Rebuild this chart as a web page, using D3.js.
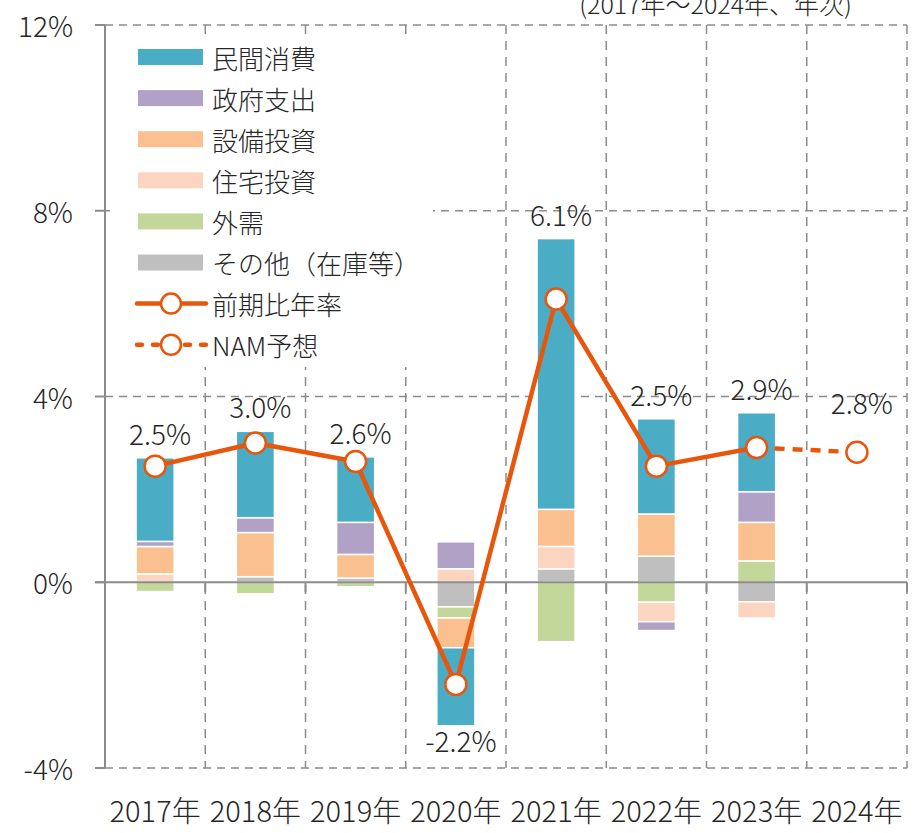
<!DOCTYPE html>
<html>
<head>
<meta charset="utf-8">
<script src="https://cdn.jsdelivr.net/npm/d3@7"></script>
<style>
  body { margin: 0; background: #fff; }
  svg text { font-family: "Noto Sans CJK JP", "Noto Sans", sans-serif; font-weight: 300; fill: #262626; }
</style>
</head>
<body>
<div id="chart"></div>
<script>
// 年
const years = ['2017年', '2018年', '2019年', '2020年', '2021年', '2022年', '2023年', '2024年']
// 寄与度（%ポイント）
const privateCons = [1.80, 1.86, 1.41, -1.68, 5.83, 2.05, 1.70, null]
const govSpend = [0.11, 0.32, 0.69, 0.58, 0.00, -0.19, 0.66, null]
const capex = [0.59, 0.95, 0.51, -0.64, 0.80, 0.91, 0.83, null]
const housing = [0.18, 0.00, 0.00, 0.29, 0.48, -0.42, -0.35, null]
const netExports = [-0.20, -0.25, -0.10, -0.24, -1.28, -0.43, 0.46, null]
const others = [0.00, 0.12, 0.09, -0.53, 0.29, 0.56, -0.42, null]
// 前期比年率
const growth = [2.5, 3.0, 2.6, -2.2, 6.1, 2.5, 2.9, null]
const forecast = [null, null, null, null, null, null, 2.9, 2.8]
const growthLabels = ['2.5%', '3.0%', '2.6%', '-2.2%', '6.1%', '2.5%', '2.9%', '2.8%']
const yTicks = [-4, 0, 4, 8, 12]
const seriesNames = ['民間消費', '政府支出', '設備投資', '住宅投資', '外需', 'その他（在庫等）']
const seriesColors = ['#4bacc6', '#b2a1c7', '#fac090', '#fcd5c1', '#c4d79b', '#bfbfbf']
const lineNames = ['前期比年率', 'NAM予想']
const lineColor = '#e8560c'

const width = 915
const height = 833
const svg = d3.select('#chart').append('svg')
  .attr('width', width)
  .attr('height', height)

const x = d3.scaleBand().domain(years).range([105, 907])
const y = d3.scaleLinear().domain([-4, 12]).range([768, 25])
const barW = x.bandwidth() * 0.38

// grid
svg.append('g').selectAll('line.h')
  .data(yTicks.filter(d => d !== 0))
  .enter().append('line')
  .attr('x1', 105).attr('x2', 907)
  .attr('y1', d => y(d)).attr('y2', d => y(d))
  .attr('stroke', '#8c8c8c').attr('stroke-width', 1.5)
  .attr('stroke-dasharray', '8,6')

const bounds = years.map(d => x(d) + x.bandwidth())
svg.append('g').selectAll('line.v')
  .data(bounds)
  .enter().append('line')
  .attr('x1', d => d).attr('x2', d => d)
  .attr('y1', y(12)).attr('y2', y(-4))
  .attr('stroke', '#8c8c8c').attr('stroke-width', 1.5)
  .attr('stroke-dasharray', '9,7')

// axis line + ticks
svg.append('line')
  .attr('x1', 105).attr('x2', 105).attr('y1', y(12)).attr('y2', y(-4))
  .attr('stroke', '#8c8c8c').attr('stroke-width', 2)
svg.append('g').selectAll('line')
  .data(yTicks)
  .enter().append('line')
  .attr('x1', 95).attr('x2', 105)
  .attr('y1', d => y(d)).attr('y2', d => y(d))
  .attr('stroke', '#8c8c8c').attr('stroke-width', 2)
svg.append('g').selectAll('text')
  .data(yTicks)
  .enter().append('text')
  .attr('x', 73).attr('y', d => y(d))
  .attr('text-anchor', 'end')
  .attr('dominant-baseline', 'central')
  .style('font-size', '28px')
  .text(d => d + '%')

// legend box
svg.append('rect')
  .attr('x', 110).attr('y', 35).attr('width', 323).attr('height', 332)
  .attr('fill', '#fff')

// stacked bars
const rows = years.map((yr, i) => ({
  year: yr,
  '民間消費': privateCons[i] || 0,
  '政府支出': govSpend[i] || 0,
  '設備投資': capex[i] || 0,
  '住宅投資': housing[i] || 0,
  '外需': netExports[i] || 0,
  'その他（在庫等）': others[i] || 0
}))
const stackOrder = ['その他（在庫等）', '外需', '住宅投資', '設備投資', '政府支出', '民間消費']
const color = d3.scaleOrdinal().domain(seriesNames).range(seriesColors)
const stacked = d3.stack().keys(stackOrder).offset(d3.stackOffsetDiverging)(rows)

svg.append('g').selectAll('g')
  .data(stacked)
  .enter().append('g')
  .attr('fill', d => color(d.key))
  .selectAll('rect')
  .data(d => d.filter(s => s[1] !== s[0]))
  .enter().append('rect')
  .attr('x', d => x(d.data.year) + (x.bandwidth() - barW) / 2)
  .attr('width', barW)
  .attr('y', d => y(Math.max(d[0], d[1])))
  .attr('height', d => Math.abs(y(d[0]) - y(d[1])))
  .attr('stroke', '#fff').attr('stroke-width', 1.5)

// zero line
svg.append('line')
  .attr('x1', 95).attr('x2', 907).attr('y1', y(0)).attr('y2', y(0))
  .attr('stroke', '#8c8c8c').attr('stroke-width', 2)
svg.append('g').selectAll('line')
  .data([x(years[0])].concat(bounds))
  .enter().append('line')
  .attr('x1', d => d).attr('x2', d => d)
  .attr('y1', y(0)).attr('y2', y(0) + 10)
  .attr('stroke', '#8c8c8c').attr('stroke-width', 2)

// lines
const cx = d => x(d) + x.bandwidth() / 2
const line = d3.line()
  .defined(d => d[1] !== null)
  .x(d => cx(d[0]))
  .y(d => y(d[1]))
svg.append('path')
  .datum(years.map((yr, i) => [yr, forecast[i]]))
  .attr('d', line)
  .attr('fill', 'none').attr('stroke', lineColor).attr('stroke-width', 4.5)
  .attr('stroke-dasharray', '10,8')
svg.append('path')
  .datum(years.map((yr, i) => [yr, growth[i]]))
  .attr('d', line)
  .attr('fill', 'none').attr('stroke', lineColor).attr('stroke-width', 4.5)
  .attr('stroke-linejoin', 'round')

const points = years.map((yr, i) => ({
  year: yr,
  value: growth[i] !== null ? growth[i] : forecast[i],
  label: growthLabels[i],
  top: d3.max(stacked, s => s[i][1]),
  bottom: d3.min(stacked, s => s[i][0])
}))
svg.append('g').selectAll('circle')
  .data(points)
  .enter().append('circle')
  .attr('cx', d => cx(d.year)).attr('cy', d => y(d.value))
  .attr('r', 10.5)
  .attr('fill', '#fff').attr('stroke', lineColor).attr('stroke-width', 2.5)

svg.append('g').selectAll('text')
  .data(points)
  .enter().append('text')
  .attr('x', d => cx(d.year) + 5)
  .attr('y', d => {
    if (d.value < 0) return y(d.bottom) + 26
    if (d.top > 0) return y(d.top) - 13
    return y(d.value) - 38
  })
  .attr('text-anchor', 'middle')
  .style('font-size', '28px')
  .text(d => d.label)

// x labels
svg.append('g').selectAll('text')
  .data(years)
  .enter().append('text')
  .attr('x', d => cx(d)).attr('y', 822)
  .attr('text-anchor', 'middle')
  .style('font-size', '29px')
  .text(d => d)

// note
svg.append('text')
  .attr('x', 852).attr('y', 14)
  .attr('text-anchor', 'end')
  .style('font-size', '25px')
  .text('(2017年～2024年、年次)')

// legend
const lg = svg.append('g')
const rowY = i => 57 + i * 41.1
seriesNames.forEach((name, i) => {
  lg.append('rect')
    .attr('x', 138).attr('y', rowY(i) - 8).attr('width', 65).attr('height', 16)
    .attr('fill', seriesColors[i])
})
lineNames.forEach((name, j) => {
  const ly = rowY(seriesNames.length + j)
  lg.append('line')
    .attr('x1', 137).attr('x2', 206).attr('y1', ly).attr('y2', ly)
    .attr('stroke', lineColor).attr('stroke-width', 4.5)
    .attr('stroke-linecap', 'round')
    .attr('stroke-dasharray', j === 1 ? '5,11' : null)
  lg.append('circle')
    .attr('cx', 171).attr('cy', ly).attr('r', 10)
    .attr('fill', '#fff').attr('stroke', lineColor).attr('stroke-width', 2.5)
})
lg.selectAll('text')
  .data(seriesNames.concat(lineNames))
  .enter().append('text')
  .attr('x', 212).attr('y', (d, i) => rowY(i))
  .attr('dominant-baseline', 'central')
  .style('font-size', '26px')
  .text(d => d)
</script>
</body>
</html>
